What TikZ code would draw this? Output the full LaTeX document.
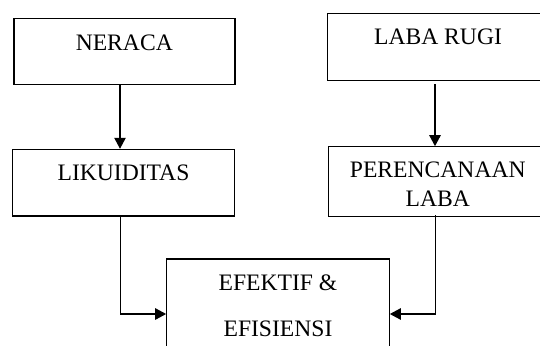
\documentclass[tikz,border=0pt]{standalone}
\usepackage{fontspec}
\setmainfont{Liberation Serif}
\usetikzlibrary{arrows.meta}
\begin{document}
\begin{tikzpicture}[x=1pt,y=-1pt,
  boxstyle/.style={draw,line width=1.1pt},
  lbl/.style={anchor=base,inner sep=0pt,font=\fontsize{23.6pt}{28.7pt}\selectfont},
  conn/.style={line width=1.1pt,-{Triangle[length=11pt,width=11.5pt]}}]
\useasboundingbox (0,0) rectangle (540,345);
\clip (0,0) rectangle (540,345);
\fill[white] (0,0) rectangle (540,345);
% boxes
\coordinate (nA) at (14,18.7); \coordinate (nB) at (235,84.3);
\node[boxstyle,fit/.style={},inner sep=0pt,minimum width=221pt,minimum height=65.6pt] (neraca) at (124.5,51.5) {};
\node[boxstyle,inner sep=0pt,minimum width=221.3pt,minimum height=66.7pt] (lik) at (123.4,182.65) {};
\node[boxstyle,inner sep=0pt,minimum width=222pt,minimum height=67pt] (laba) at (438.3,47.2) {};
\node[boxstyle,inner sep=0pt,minimum width=220pt,minimum height=70pt] (ren) at (438.3,181.7) {};
\node[boxstyle,inner sep=0pt,minimum width=222.6pt,minimum height=120pt] (efek) at (278,319) {};
% labels
\node[lbl] (t1) at (124.3,50) {NERACA};
\node[lbl] (t2) at (123.5,180.7) {LIKUIDITAS};
\node[lbl] (t3) at (438,45) {LABA RUGI};
\node[lbl] (t4) at (437.8,177.3) {PERENCANAAN};
\node[lbl] (t5) at (437.8,206) {LABA};
\node[lbl] (t6) at (278,290.7) {EFEKTIF \&};
\node[lbl] (t7) at (278,336) {EFISIENSI};
% connectors
\draw[conn] (neraca.south -| 120,0) -- (lik.north -| 120,0);
\draw[conn] ([yshift=-3pt]laba.south -| 435,0) -- (ren.north -| 435,0);
\coordinate (c1) at (120.5,314);
\coordinate (c2) at (435.3,314);
\draw[conn] (lik.south -| c1) -- (c1) -- (c1 -| efek.west);
\draw[conn] ([yshift=2pt]ren.south -| c2) -- (c2) -- (c2 -| efek.east);
\end{tikzpicture}
\end{document}
